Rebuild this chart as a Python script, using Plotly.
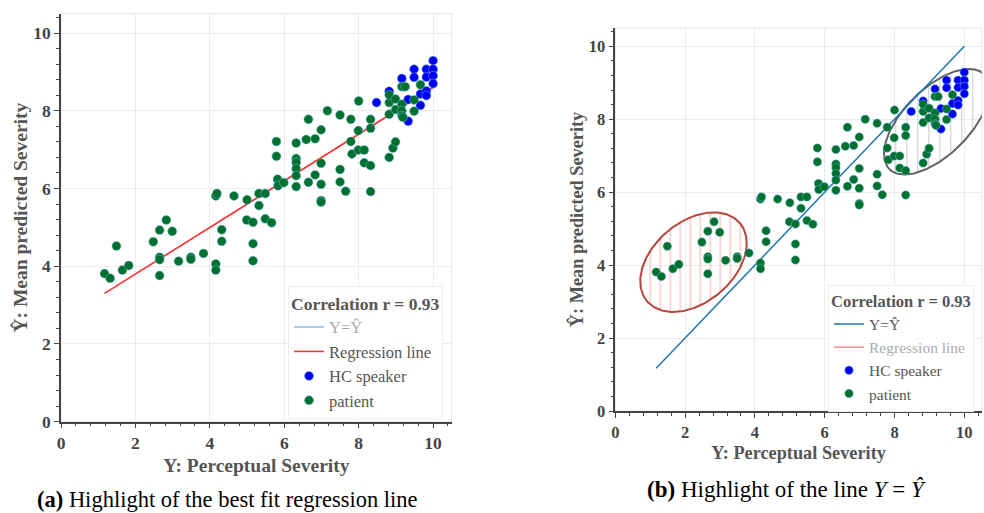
import numpy as np
import plotly.graph_objects as go

# ---- data: perceptual severity (Y) vs mean predicted severity (Y-hat) ----
patient_x = [1.17, 1.32, 1.49, 1.65, 1.82, 2.48, 2.65, 2.83, 2.99, 2.65, 2.65, 2.65,
             3.16, 3.49, 3.49, 3.83, 4.16, 4.16, 4.16, 4.19, 4.32, 4.32, 4.65, 5.00,
             4.99, 5.16, 5.16, 5.16, 5.32, 5.49, 5.32, 5.49, 5.66, 5.79, 5.79, 5.82,
             5.83, 5.99, 6.32, 6.32, 6.32, 6.32, 6.32, 6.32, 6.59, 6.65, 6.83, 6.99,
             6.65, 6.83, 6.99, 6.99, 6.99, 6.99, 7.16, 7.50, 7.79, 8.00, 7.50, 7.50,
             7.65, 7.79, 7.82, 7.99, 7.99, 8.15, 8.15, 8.32, 8.32, 8.32, 8.32, 8.82,
             8.92, 8.99, 8.82, 8.82, 8.82, 8.99, 8.99, 9.16, 9.16, 9.16, 9.19, 9.16,
             9.25, 9.49, 9.49, 9.66]
patient_y = [3.81, 3.69, 4.52, 3.90, 4.02, 4.63, 4.93, 5.19, 4.90, 4.23, 4.17, 3.76,
             4.13, 4.23, 4.18, 4.33, 4.06, 3.90, 5.81, 5.87, 4.94, 4.64, 5.81, 5.71,
             5.19, 5.13, 4.58, 4.14, 5.87, 5.87, 5.56, 5.22, 5.12, 7.21, 6.83, 6.24,
             6.07, 6.15, 7.17, 6.77, 6.67, 6.51, 6.33, 6.05, 7.26, 7.78, 7.28, 7.51,
             6.16, 6.35, 6.65, 6.11, 5.69, 5.65, 8.00, 7.89, 7.78, 8.25, 6.49, 6.17,
             5.93, 7.21, 6.89, 7.49, 6.99, 6.99, 6.66, 6.59, 5.92, 7.78, 7.55, 6.80,
             7.04, 7.20, 7.91, 8.21, 8.41, 8.30, 8.03, 8.17, 8.00, 7.87, 7.83, 8.62,
             8.62, 8.28, 7.99, 8.67]

hc_x = [8.48, 8.82, 9.16, 9.33, 9.33, 9.49, 9.49, 9.66, 9.66, 9.82, 9.82, 9.82,
        9.82, 10.0, 10.0, 10.0, 10.0]
hc_y = [8.21, 8.50, 8.83, 8.29, 7.73, 9.07, 8.86, 8.43, 8.14, 9.07, 8.87, 8.51,
        8.39, 9.29, 9.07, 8.90, 8.70]

identity_x = [1.17, 10.0]
identity_y = [1.17, 10.0]
regression_x = [1.17, 10.0]
regression_y = [3.30, 8.60]

legend_title = "Correlation r = 0.93"

# ---- layout geometry ----
W, H = 984, 513
RANGE = [0, 10.5]
left_dom_x = [61 / W, 451.7 / W]
left_dom_y = [(H - 421.7) / H, (H - 13.6) / H]
right_dom_x = [615.3 / W, 981.8 / W]
right_dom_y = [(H - 411) / H, (H - 28) / H]

FONT = "Liberation Serif"
GREEN = "rgb(0,112,48)"
BLUE = "rgb(0,0,245)"
RED = "rgb(255,45,45)"
LINEBLUE = "rgb(31,119,180)"
EDGE = "rgba(120,190,220,0.8)"


def ellipse(cx, cy, a_px, b_px, angle_deg, dom_x, dom_y):
    """Outline of a rotated ellipse given in screen pixels, returned in data units."""
    sx = (dom_x[1] - dom_x[0]) * W / (RANGE[1] - RANGE[0])
    sy = (dom_y[1] - dom_y[0]) * H / (RANGE[1] - RANGE[0])
    t = np.linspace(0, 2 * np.pi, 181)
    th = np.deg2rad(angle_deg)
    dx = a_px * np.cos(t) * np.cos(th) - b_px * np.sin(t) * np.sin(th)
    dy = a_px * np.cos(t) * np.sin(th) + b_px * np.sin(t) * np.cos(th)
    return cx + dx / sx, cy + dy / sy


fig = go.Figure()

# ---------- panel (a): regression line highlighted ----------
fig.add_trace(go.Scatter(x=identity_x, y=identity_y, mode="lines", name="Y=Ŷ",
                         line=dict(color=LINEBLUE, width=1.5), visible="legendonly",
                         xaxis="x", yaxis="y", legend="legend"))
fig.add_trace(go.Scatter(x=regression_x, y=regression_y, mode="lines", name="Regression line",
                         line=dict(color=RED, width=1.6),
                         xaxis="x", yaxis="y", legend="legend"))
fig.add_trace(go.Scatter(x=hc_x, y=hc_y, mode="markers", name="HC speaker",
                         marker=dict(color=BLUE, size=9, line=dict(color=EDGE, width=0.6)),
                         xaxis="x", yaxis="y", legend="legend"))
fig.add_trace(go.Scatter(x=patient_x, y=patient_y, mode="markers", name="patient",
                         marker=dict(color=GREEN, size=9, line=dict(color=EDGE, width=0.6)),
                         xaxis="x", yaxis="y", legend="legend"))

# ---------- panel (b): identity line highlighted, with hatched regions ----------
ex, ey = ellipse(2.24, 4.08, 60.7, 40.3, 40, right_dom_x, right_dom_y)
fig.add_trace(go.Scatter(x=ex, y=ey, mode="lines", fill="toself", showlegend=False,
                         hoverinfo="skip", fillcolor="rgba(255,255,255,0)",
                         fillpattern=dict(shape="|", fgcolor="rgba(240,150,150,0.75)",
                                          bgcolor="rgba(255,255,255,0)", size=10, solidity=0.1),
                         line=dict(color="rgb(185,70,60)", width=2),
                         xaxis="x2", yaxis="y2"))
gx, gy = ellipse(9.21, 7.93, 67, 33, 45, right_dom_x, right_dom_y)
fig.add_trace(go.Scatter(x=gx, y=gy, mode="lines", fill="toself", showlegend=False,
                         hoverinfo="skip", fillcolor="rgba(255,255,255,0)",
                         fillpattern=dict(shape="|", fgcolor="rgba(200,200,200,0.9)",
                                          bgcolor="rgba(255,255,255,0)", size=11, solidity=0.1),
                         line=dict(color="rgb(100,100,100)", width=2),
                         xaxis="x2", yaxis="y2"))

fig.add_trace(go.Scatter(x=identity_x, y=identity_y, mode="lines", name="Y=Ŷ",
                         line=dict(color=LINEBLUE, width=1.5),
                         xaxis="x2", yaxis="y2", legend="legend2"))
fig.add_trace(go.Scatter(x=regression_x, y=regression_y, mode="lines", name="Regression line",
                         line=dict(color=RED, width=1.6), visible="legendonly",
                         xaxis="x2", yaxis="y2", legend="legend2"))
fig.add_trace(go.Scatter(x=hc_x, y=hc_y, mode="markers", name="HC speaker",
                         marker=dict(color=BLUE, size=8.5, line=dict(color=EDGE, width=0.6)),
                         xaxis="x2", yaxis="y2", legend="legend2"))
fig.add_trace(go.Scatter(x=patient_x, y=patient_y, mode="markers", name="patient",
                         marker=dict(color=GREEN, size=8.5, line=dict(color=EDGE, width=0.6)),
                         xaxis="x2", yaxis="y2", legend="legend2"))


def axis(domain, anchor, title, tick_size, title_size, standoff):
    return dict(
        domain=domain, anchor=anchor, range=RANGE, tick0=0, dtick=2,
        ticks="outside", ticklen=5, tickwidth=1.3, tickcolor="#444",
        showline=True, linecolor="#444", linewidth=1.5,
        showgrid=True, gridcolor="#ececec", gridwidth=1, zeroline=False,
        minor=dict(dtick=0.4, ticks="outside", ticklen=3, tickcolor="#444", showgrid=False),
        tickfont=dict(family=FONT, size=tick_size, color="#444", weight="bold"),
        title=dict(text=title, standoff=standoff,
                   font=dict(family=FONT, size=title_size, color="#555", weight="bold")),
        automargin=False, fixedrange=True,
    )


fig.update_layout(
    width=W, height=H, margin=dict(l=0, r=0, t=0, b=0),
    paper_bgcolor="white", plot_bgcolor="white",
    template="none",
    xaxis=axis(left_dom_x, "y", "Y: Perceptual Severity", 17.5, 19.5, 6),
    yaxis=axis(left_dom_y, "x", "Ŷ: Mean predicted Severity", 17.5, 19.5, 0),
    xaxis2=axis(right_dom_x, "y2", "Y: Perceptual Severity", 16.5, 18.3, 6),
    yaxis2=axis(right_dom_y, "x2", "Ŷ: Mean predicted Severity", 16.5, 18.3, 0),
    legend=dict(x=443 / W, xanchor="right", y=(H - 286) / H, yanchor="top",
                bgcolor="rgba(255,255,255,0.9)", bordercolor="#eeeeee", borderwidth=1,
                font=dict(family=FONT, size=16.5, color="#555"),
                title=dict(text=legend_title, font=dict(family=FONT, size=17.5, color="#555", weight="bold"))),
    legend2=dict(x=974 / W, xanchor="right", y=(H - 285) / H, yanchor="top",
                 bgcolor="rgba(255,255,255,0.9)", bordercolor="#eeeeee", borderwidth=1,
                 font=dict(family=FONT, size=15.5, color="#555"),
                 title=dict(text=legend_title, font=dict(family=FONT, size=16.5, color="#555", weight="bold"))),
    showlegend=True,
)

# light frame around each plotting area
for xr, yr in (("x domain", "y domain"), ("x2 domain", "y2 domain")):
    fig.add_shape(type="rect", xref=xr, yref=yr, x0=0, x1=1, y0=0, y1=1,
                  line=dict(color="#e6e6e6", width=1), layer="below")

# panel captions
fig.add_annotation(text="<b>(a)</b> Highlight of the best fit regression line",
                   xref="paper", yref="paper", x=227.5 / W, y=(H - 499) / H,
                   xanchor="center", yanchor="middle", showarrow=False,
                   font=dict(family=FONT, size=22.5, color="black"))
fig.add_annotation(text="<b>(b)</b> Highlight of the line <i>Y</i> = <i>Ŷ</i>",
                   xref="paper", yref="paper", x=786 / W, y=(H - 489) / H,
                   xanchor="center", yanchor="middle", showarrow=False,
                   font=dict(family=FONT, size=23, color="black"))

fig.write_html("out.html")
